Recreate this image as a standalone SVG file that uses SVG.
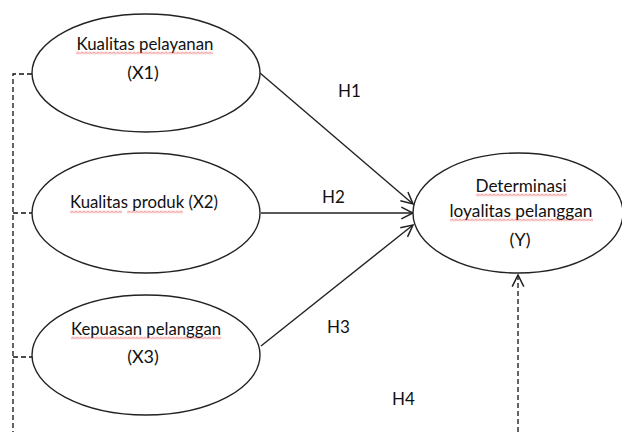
<svg xmlns="http://www.w3.org/2000/svg" width="622" height="432" viewBox="0 0 622 432">
<style>
  .node ellipse { fill: #fff; stroke: #222; stroke-width: 1.4; }
  .lbl { font-family: Lato, "Liberation Sans", sans-serif; font-size: 18px; fill: #111; text-anchor: middle; }
  .h { font-family: Lato, "Liberation Sans", sans-serif; font-size: 17px; fill: #111; }
  .solid { stroke: #222; stroke-width: 1.4; fill: none; marker-end: url(#arr); }
  .dash { stroke: #111; stroke-width: 1.3; fill: none; stroke-dasharray: 5 3; }
</style>
<defs>
  <marker id="arr" markerUnits="userSpaceOnUse" markerWidth="14" markerHeight="14" viewBox="0 0 12 12" refX="11" refY="6" orient="auto">
    <path d="M1,1 L11,6 L1,11" fill="none" stroke="#222" stroke-width="1.3"/>
  </marker>
  <pattern id="wave" patternUnits="userSpaceOnUse" width="4" height="3">
    <path d="M0,2.5 L2,0.5 L4,2.5" fill="none" stroke="#e02020" stroke-width="0.8"/>
  </pattern>
</defs>
<rect width="622" height="432" fill="#fff"/>

<g id="connectors">
  <path class="dash" d="M32,74 H13 V432"/>
  <path class="dash" d="M13,213 H32"/>
  <path class="dash" d="M13,357 H32"/>
  <path class="dash" d="M518,432 V275" marker-end="url(#arr)"/>
  <path class="solid" d="M260,73 L413,204"/>
  <path class="solid" d="M261,213 L413,213"/>
  <path class="solid" d="M261,346 L413,225"/>
</g>

<g id="X1" class="node">
  <ellipse cx="146" cy="73" rx="114" ry="59"/>
  <text class="lbl" x="145" y="50" textLength="137" lengthAdjust="spacingAndGlyphs">Kualitas pelayanan</text>
  <text class="lbl" x="143" y="79">(X1)</text>
  <rect transform="translate(76,51.5)" width="137" height="3" fill="url(#wave)"/>
</g>

<g id="X2" class="node">
  <ellipse cx="146" cy="213" rx="114" ry="60"/>
  <text class="lbl" x="144" y="208" textLength="148" lengthAdjust="spacingAndGlyphs">Kualitas produk (X2)</text>
  <rect transform="translate(70,210.5)" width="52" height="3" fill="url(#wave)"/>
  <rect transform="translate(127,210.5)" width="56" height="3" fill="url(#wave)"/>
</g>

<g id="X3" class="node">
  <ellipse cx="146" cy="355" rx="114" ry="60"/>
  <text class="lbl" x="146" y="335" textLength="150" lengthAdjust="spacingAndGlyphs">Kepuasan pelanggan</text>
  <text class="lbl" x="143" y="363">(X3)</text>
  <rect transform="translate(71,336.5)" width="150" height="3" fill="url(#wave)"/>
</g>

<g id="Y" class="node">
  <ellipse cx="518" cy="213" rx="105" ry="60"/>
  <text class="lbl" x="521" y="192" textLength="91" lengthAdjust="spacingAndGlyphs">Determinasi</text>
  <text class="lbl" x="521" y="217" textLength="143" lengthAdjust="spacingAndGlyphs">loyalitas pelanggan</text>
  <text class="lbl" x="520" y="246">(Y)</text>
  <rect transform="translate(476,193.5)" width="91" height="3" fill="url(#wave)"/>
  <rect transform="translate(450,218.5)" width="143" height="3" fill="url(#wave)"/>
</g>

<g id="labels">
  <text class="h" x="338" y="97">H1</text>
  <text class="h" x="322" y="203">H2</text>
  <text class="h" x="327" y="333">H3</text>
  <text class="h" x="392" y="405">H4</text>
</g>
</svg>
